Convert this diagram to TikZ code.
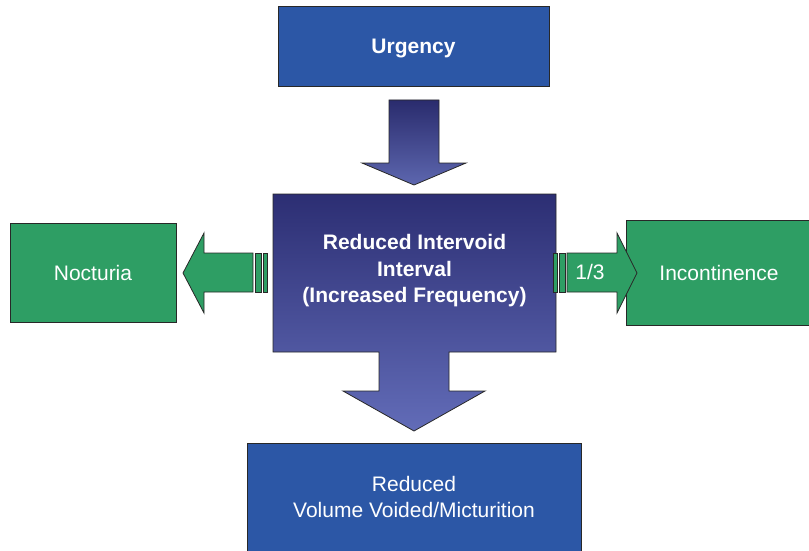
\documentclass[tikz,border=0pt]{standalone}
\usepackage{fontspec}
\setmainfont{Liberation Sans}
\begin{document}
\definecolor{boxblue}{RGB}{44,87,166}
\definecolor{boxgreen}{RGB}{46,158,100}
\definecolor{edge}{RGB}{40,40,40}
\definecolor{navytop}{RGB}{44,46,115}
\definecolor{navybot}{RGB}{98,108,184}
\begin{tikzpicture}[x=1pt,y=-1pt,
  font=\fontsize{21}{26}\selectfont,
  outline/.style={draw=edge,line width=0.8pt},
  bluebox/.style={outline,fill=boxblue,text=white,align=center,inner sep=0pt},
  greenbox/.style={outline,fill=boxgreen,text=white,align=center,inner sep=0pt},
  label/.style={text=white,align=center,inner sep=0pt},
  stripe/.style={outline,fill=boxgreen,line width=0.6pt}]
\useasboundingbox (0,0) rectangle (809,551);

% central box merged with the downward block arrow
\shade[outline,top color=navytop,bottom color=navybot]
  (273,194) -- (556,194) -- (556,352) -- (449,352) -- (449,391) -- (485,391)
  -- (414,431) -- (343,391) -- (379,391) -- (379,352) -- (273,352) -- cycle;
\node[label,font=\fontsize{21}{26.5}\selectfont\bfseries] (mid) at (414.5,271)
  {Reduced Intervoid\\Interval\\(Increased Frequency)};

% top box and its arrow
\node[bluebox,minimum width=271pt,minimum height=80pt] (urg) at (413.5,46) {};
\node[label,font=\fontsize{21}{26}\selectfont\bfseries] (urgtext) at (413.5,49) {Urgency};
\shade[outline,top color=navytop!95!black,bottom color=navybot!95!black]
  (389,100) -- (439,100) -- (439,163) -- (466,163) -- (414,185) -- (362,163) -- (389,163) -- cycle;

% bottom box
\node[bluebox,minimum width=334pt,minimum height=120pt,anchor=north] (vol) at (414,443) {};
\node[label] (voltext) at (414,497) {Reduced\\Volume Voided/Micturition};

% left box and arrow
\node[greenbox,minimum width=166pt,minimum height=99pt] (noc) at (93,272.5) {Nocturia};
\draw[outline,fill=boxgreen]
  (183,273) -- (204,233) -- (204,253) -- (253,253) -- (253,292) -- (204,292) -- (204,313) -- cycle;
\draw[stripe] (255,253) rectangle (261,292);
\draw[stripe] (263,253) rectangle (267,292);

% right box and arrow
\node[greenbox,minimum width=186pt,minimum height=105pt] (inc) at (719,272.5) {Incontinence};
\draw[outline,fill=boxgreen]
  (567,253) -- (617,253) -- (617,233) -- (637,273) -- (617,313) -- (617,292) -- (567,292) -- cycle;
\draw[stripe] (553.5,253) rectangle (557.5,292);
\draw[stripe] (559.5,253) rectangle (565,292);
\node[label] (frac) at (590,272) {1/3};
\end{tikzpicture}
\end{document}
